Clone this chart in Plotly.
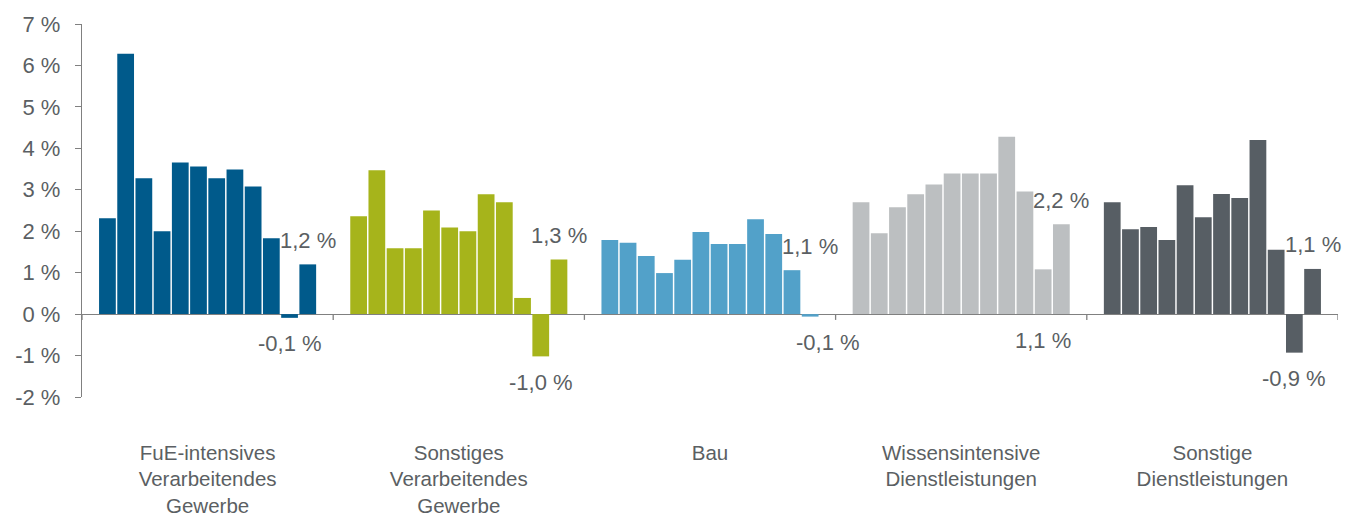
import plotly.graph_objects as go

# ---------------- data ----------------
categories = [
    "FuE-intensives<br>Verarbeitendes<br>Gewerbe",
    "Sonstiges<br>Verarbeitendes<br>Gewerbe",
    "Bau",
    "Wissensintensive<br>Dienstleistungen",
    "Sonstige<br>Dienstleistungen",
]
fue_intensiv = [2.31, 6.28, 3.28, 2.00, 3.66, 3.56, 3.28, 3.49, 3.08, 1.83, -0.09, 1.20]
sonst_verarb = [2.36, 3.47, 1.59, 1.59, 2.50, 2.09, 2.00, 2.89, 2.70, 0.39, -1.02, 1.32]
bau = [1.79, 1.72, 1.40, 0.99, 1.31, 1.98, 1.69, 1.69, 2.29, 1.93, 1.06, -0.06]
wissen_dl = [2.70, 1.95, 2.58, 2.89, 3.13, 3.39, 3.39, 3.39, 4.28, 2.96, 1.08, 2.17]
sonst_dl = [2.70, 2.05, 2.10, 1.79, 3.11, 2.34, 2.90, 2.80, 4.20, 1.55, -0.93, 1.09]
series = [fue_intensiv, sonst_verarb, bau, wissen_dl, sonst_dl]

y_tickvals = [-2, -1, 0, 1, 2, 3, 4, 5, 6, 7]
y_ticktext = [f"{v} %" for v in y_tickvals]

# ---------------- style ----------------
colors = ["#005a8b", "#a6b41b", "#52a1c9", "#bcbfc1", "#575e64"]
text_color = "#5b5f63"
axis_color = "#808080"
font_family = "Arial, 'Liberation Sans', sans-serif"
font_size = 22
cat_font_size = 20.5
bargap = 0.13
bargroupgap = 0.08
label_xshift = [0, 0, 18, 0, 0]

n_bars = len(series[0])
xs = list(range(len(categories)))

fig = go.Figure()
for k in range(n_bars):
    fig.add_trace(go.Bar(
        x=xs,
        y=[s[k] for s in series],
        marker=dict(color=colors, line=dict(width=0)),
        showlegend=False,
        hoverinfo="skip",
    ))

# value labels on the last two bars of every group
slot = (1 - bargap) / n_bars
annotations = []
for g, s in enumerate(series):
    a, b = s[-2], s[-1]
    idx_hi, idx_lo = (n_bars - 1, n_bars - 2) if b >= a else (n_bars - 2, n_bars - 1)
    for idx, above in ((idx_hi, True), (idx_lo, False)):
        v = s[idx]
        xpos = g + (idx - (n_bars - 1) / 2) * slot
        txt = f"{v:.1f}".replace(".", ",") + " %"
        annotations.append(dict(
            x=xpos, xref="x",
            y=max(v, 0) if above else min(v, 0), yref="y",
            text=txt, showarrow=False,
            yanchor="middle", xanchor="center",
            yshift=24 if above else -26,
            xshift=label_xshift[g],
            font=dict(family=font_family, size=font_size, color=text_color),
        ))

# small tick marks on the zero line at the group boundaries
shapes = []
for bnd in [g - 0.5 for g in range(len(categories) + 1)]:
    shapes.append(dict(
        type="line", xref="x", yref="y",
        x0=bnd, x1=bnd, y0=0, y1=-0.14,
        line=dict(color=axis_color, width=1.3),
    ))

fig.update_layout(
    width=1353, height=516,
    margin=dict(l=74, r=23, t=16, b=127),
    paper_bgcolor="white", plot_bgcolor="white",
    barmode="group", bargap=bargap, bargroupgap=bargroupgap,
    font=dict(family=font_family, size=font_size, color=text_color),
    annotations=annotations,
    shapes=shapes,
)
fig.update_xaxes(
    range=[-0.5, len(categories) - 0.5],
    tickmode="array", tickvals=xs, ticktext=categories,
    showline=False, showgrid=False, zeroline=False, ticks="",
    ticklabelstandoff=41, automargin=False,
    tickfont=dict(family=font_family, size=cat_font_size, color=text_color),
)
fig.update_yaxes(
    range=[-2, 7],
    tickmode="array", tickvals=y_tickvals, ticktext=y_ticktext,
    showline=True, linecolor=axis_color, linewidth=1.3,
    ticks="outside", ticklen=6, tickcolor=axis_color, tickwidth=1.3,
    showgrid=False,
    zeroline=True, zerolinecolor=axis_color, zerolinewidth=1.3,
    ticklabelstandoff=10, automargin=False,
    tickfont=dict(family=font_family, size=font_size, color=text_color),
)

fig.write_html("out.html")
